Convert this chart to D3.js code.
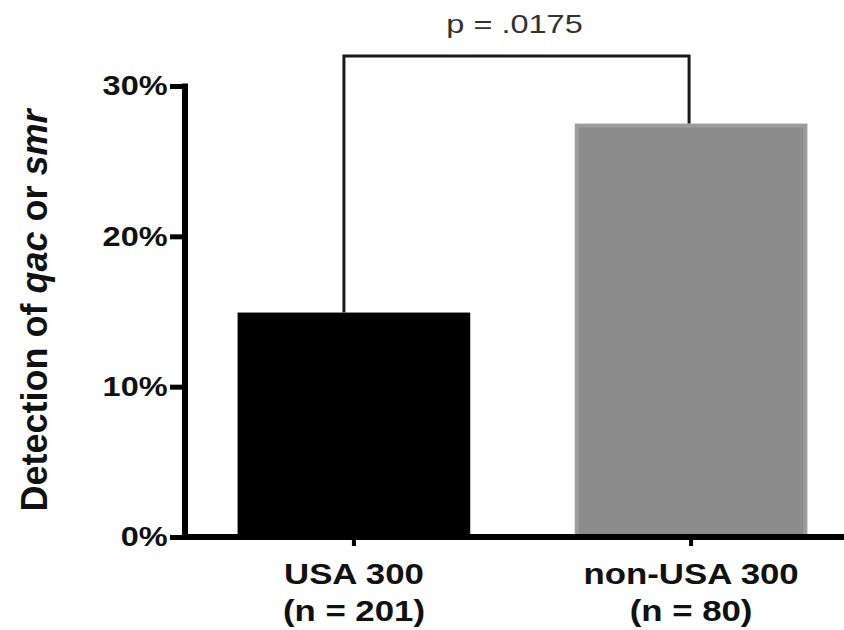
<!DOCTYPE html>
<html lang="en">
<head>
<meta charset="UTF-8">
<title>Detection of qac or smr</title>
<script src="https://d3js.org/d3.v7.min.js"></script>
<style>
  body { margin: 0; background: #fff; }
  svg { display: block; font-family: "Liberation Sans", Arial, Helvetica, sans-serif; }
</style>
</head>
<body>
<div id="chart"></div>
<script>
// data
var groups = ["USA 300", "non-USA 300"];
var nLabels = ["(n = 201)", "(n = 80)"];
var detection = [14.93, 27.5];   // percent
var barFill = ["#000000", "#8c8c8c"];
var barStroke = ["#000000", "#9c9c9c"];
var yTicks = [0, 10, 20, 30];
var pText = "p = .0175";

var width = 844, height = 630;
var sx = 1.16; // the original lettering is wider than Arial

var svg = d3.select("#chart").append("svg")
    .attr("width", width)
    .attr("height", height);

var x = d3.scaleBand()
    .domain(groups)
    .range([185, 860])
    .paddingInner(0.31)
    .paddingOuter(0.156);

var y = d3.scaleLinear()
    .domain([0, 30])
    .range([537, 86]);

// bars
svg.append("g")
    .selectAll("rect")
    .data(groups)
    .join("rect")
    .attr("x", (d, i) => x(d) + 2)
    .attr("width", x.bandwidth() - 4)
    .attr("y", (d, i) => y(detection[i]) + 2)
    .attr("height", (d, i) => y(0) - y(detection[i]) - 2)
    .attr("fill", (d, i) => barFill[i])
    .attr("stroke", (d, i) => barStroke[i])
    .attr("stroke-width", 4);

// y axis
var yAxis = svg.append("g")
    .attr("transform", "translate(185,0)")
    .call(d3.axisLeft(y).tickValues(yTicks).tickSize(15).tickPadding(0).tickFormat(d => d + "%"));
yAxis.select(".domain").attr("d", "M0," + (y(30) - 2.5) + "V" + (y(0) + 3)).attr("stroke", "#000").attr("stroke-width", 6);
yAxis.selectAll(".tick line").attr("stroke", "#000").attr("stroke-width", 5);
yAxis.selectAll(".tick text")
    .attr("fill", "#111")
    .attr("transform", "scale(" + sx + ",1)")
    .style("font-size", "28px")
    .style("font-weight", "bold")
    .style("font-family", "'Liberation Sans', Arial, sans-serif");

// x axis
var xAxis = svg.append("g")
    .attr("transform", "translate(0," + y(0) + ")")
    .call(d3.axisBottom(x).tickSize(9).tickFormat(""));
xAxis.select(".domain").attr("d", "M182,0H" + width).attr("stroke", "#000").attr("stroke-width", 6);
xAxis.selectAll(".tick line").attr("stroke", "#000").attr("stroke-width", 4);

var xl = svg.append("g")
    .selectAll("g")
    .data(groups)
    .join("g")
    .attr("transform", d => "translate(" + (x(d) + x.bandwidth() / 2) + ",0) scale(" + sx + ",1)");
xl.append("text")
    .attr("y", 584)
    .attr("text-anchor", "middle")
    .attr("fill", "#111")
    .style("font-size", "30px")
    .style("font-weight", "bold")
    .text(d => d);
xl.append("text")
    .attr("y", 621)
    .attr("text-anchor", "middle")
    .attr("fill", "#111")
    .style("font-size", "30px")
    .style("font-weight", "bold")
    .text((d, i) => nLabels[i]);

// y title
var yt = svg.append("text")
    .attr("transform", "translate(47," + ((y(0) + y(30)) / 2 - 1) + ") rotate(-90) scale(1.0,1)")
    .attr("text-anchor", "middle")
    .attr("fill", "#111")
    .style("font-size", "36px")
    .style("font-weight", "bold");
yt.append("tspan").text("Detection of ");
yt.append("tspan").style("font-style", "italic").text("qac");
yt.append("tspan").text(" or ");
yt.append("tspan").style("font-style", "italic").text("smr");

// significance bracket
var cx0 = x(groups[0]) + x.bandwidth() / 2 - 10;
var cx1 = x(groups[1]) + x.bandwidth() / 2 - 2;
var bracketY = y(32);
svg.append("path")
    .attr("d", "M" + cx0 + "," + y(detection[0]) + "V" + bracketY + "H" + cx1 + "V" + y(detection[1]))
    .attr("fill", "none")
    .attr("stroke", "#1a1a1a")
    .attr("stroke-width", 3);

svg.append("text")
    .attr("transform", "translate(" + ((cx0 + cx1) / 2 - 2) + ",33) scale(1.25,1)")
    .attr("text-anchor", "middle")
    .attr("fill", "#333")
    .style("font-size", "26px")
    .text(pText);
</script>
</body>
</html>
